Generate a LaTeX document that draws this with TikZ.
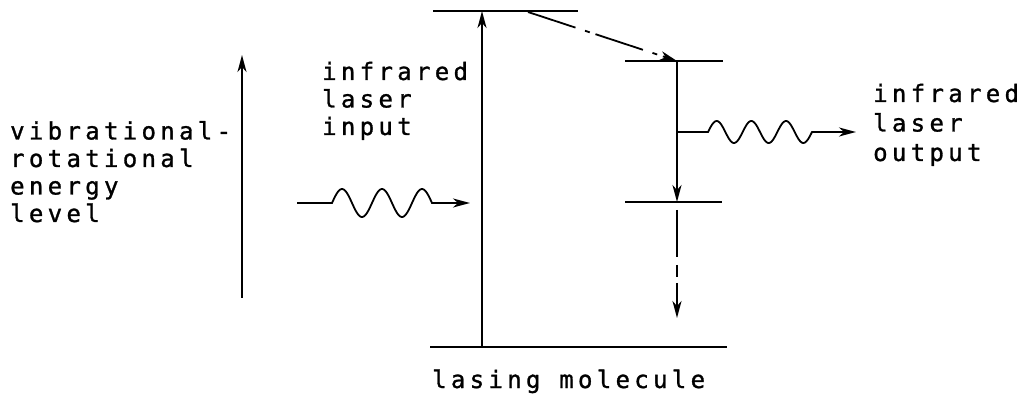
\documentclass[tikz,border=0pt]{standalone}
\usepackage{fontspec}
\usetikzlibrary{arrows.meta}
\newfontfamily\tw{DejaVu Sans Mono}[LetterSpace=18,FakeBold=1.2]
\begin{document}
\begin{tikzpicture}[x=1pt,y=-1pt,
  lvl/.style={line width=2.4pt},
  conn/.style={line width=1.8pt,-{Stealth[length=17pt,width=9pt,inset=5pt]}},
  lbl/.style={inner sep=0pt,anchor=base west,align=left,font=\tw\fontsize{24}{27.5}\selectfont}]
\useasboundingbox (0,0) rectangle (1026,398);
% level coordinates
\coordinate (topL) at (433,11);   \coordinate (topR) at (578,11);
\coordinate (midL) at (625,61);   \coordinate (midR) at (723,61);
\coordinate (lowL) at (625,202);  \coordinate (lowR) at (722,202);
\coordinate (botL) at (430,347);  \coordinate (botR) at (727,347);
\coordinate (pumpB) at (482,347); \coordinate (pumpT) at (482,11);
\coordinate (relaxA) at (528,12); \coordinate (midC) at (677,61);
\coordinate (lowC) at (677,202);  \coordinate (lowC2) at (677,210);
\coordinate (decayE) at (677,318);
\coordinate (axB) at (242,298);   \coordinate (axT) at (242,55);
\coordinate (inA) at (297,203);   \coordinate (inB) at (470,203);
\coordinate (outA) at (677,132);  \coordinate (outB) at (856,132);
% levels
\draw[lvl] (topL) -- (topR);
\draw[lvl] (midL) -- (midR);
\draw[lvl] (lowL) -- (lowR);
\draw[lvl] (botL) -- (botR);
% transitions
\draw[conn] (pumpB) -- (pumpT);
\draw[conn,dash pattern=on 50pt off 10pt on 5pt off 6pt] (relaxA) -- (midC);
\draw[conn] (midC) -- (lowC);
\draw[conn,dash pattern=on 47pt off 8pt on 12pt off 6pt] (lowC2) -- (decayE);
\draw[conn] (axB) -- (axT);
% input photon
\draw[conn] (inA) -- (332,203)
  -- plot[domain=332:432,samples=90,smooth] (\x,{203-14*sin(9*(\x-332))})
  -- (inB);
% output photon
\draw[conn] (outA) -- (708,132)
  -- plot[domain=708:812,samples=100,smooth] (\x,{132-11*sin(1080/104*(\x-708))})
  -- (outB);
% labels (anchor is the baseline of the last line)
\node[lbl] (axis) at (10,222) {vibrational-\\rotational\\energy\\level};
\node[lbl] (inlbl) at (322,135) {infrared\\laser\\input};
\node[lbl,font=\tw\fontsize{24}{29.5}\selectfont] (outlbl) at (873,161) {infrared\\laser\\output};
\node[lbl] (mol) at (432,388) {lasing molecule};
\end{tikzpicture}
\end{document}
